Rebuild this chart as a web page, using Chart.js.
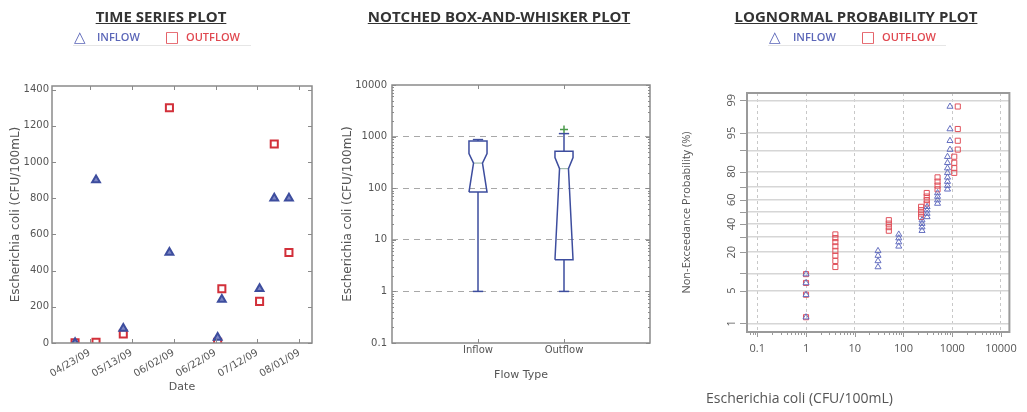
<!DOCTYPE html>
<html>
<head>
<meta charset="utf-8">
<script src="https://cdn.jsdelivr.net/npm/chart.js@4.4.1/dist/chart.umd.min.js"></script>
<style>
  body { margin: 0; background: #fff; width: 1027px; height: 412px; overflow: hidden; position: relative; font-family: "Open Sans", sans-serif; }
  canvas { position: absolute; top: 0; }
  .title { position: absolute; top: 6px; font-weight: 700; font-size: 15px; color: #333; text-decoration: underline; white-space: nowrap; transform: translateX(-50%); z-index: 2; }
  .leg { position: absolute; top: 28px; height: 18px; line-height: 18px; white-space: nowrap; font-size: 11px; font-weight: 600; z-index: 2; }
  .leg .g { position: absolute; font-family: "DejaVu Sans", sans-serif; font-size: 15px; font-weight: 400; }
  .leg .t { position: absolute; }
  .leg .line { position: absolute; top: 17px; height: 1px; background: #e6e6e6; }
  .xlab { position: absolute; left: 706px; top: 388px; font-size: 14px; color: #555; z-index: 2; }
</style>
</head>
<body>

<div class="title" style="left:161px">TIME SERIES PLOT</div>
<div class="title" style="left:499px">NOTCHED BOX-AND-WHISKER PLOT</div>
<div class="title" style="left:856px">LOGNORMAL PROBABILITY PLOT</div>

<div class="leg" style="left:0">
  <span class="line" style="left:73px;width:178px"></span>
  <span class="g" style="left:74px;color:#5b66b8">△</span><span class="t" style="left:97px;color:#5b66b8">INFLOW</span>
  <span class="g" style="left:165px;color:#e04850">□</span><span class="t" style="left:186px;color:#e04850">OUTFLOW</span>
</div>
<div class="leg" style="left:0">
  <span class="line" style="left:768px;width:178px"></span>
  <span class="g" style="left:769px;color:#5b66b8">△</span><span class="t" style="left:793px;color:#5b66b8">INFLOW</span>
  <span class="g" style="left:861px;color:#e04850">□</span><span class="t" style="left:882px;color:#e04850">OUTFLOW</span>
</div>

<div class="xlab">Escherichia coli (CFU/100mL)</div>

<canvas id="timeChart" width="330" height="412" style="left:0"></canvas>
<canvas id="boxChart" width="340" height="412" style="left:340px"></canvas>
<canvas id="probChart" width="347" height="412" style="left:680px"></canvas>

<script>
// ---------- data ----------
const sampleDates = ["04/16/09", "04/26/09", "05/09/09", "05/31/09", "06/23/09", "06/25/09", "07/13/09", "07/20/09", "07/27/09"];
const inflowTs = [1, 900, 80, 500, 30, 240, 300, 800, 800];
const outflowTs = [1, 4, 50, 1300, 4, 300, 230, 1100, 500];
const dateTickLabels = ["04/23/09", "05/13/09", "06/02/09", "06/22/09", "07/12/09", "08/01/09"];
const countTicks = [0, 200, 400, 600, 800, 1000, 1200, 1400];

// box stats: whisker low, q1, notch low, median, notch high, q3, whisker high
const flowTypes = ["Inflow", "Outflow"];
const inflowBox = [1, 84, 84, 307, 468, 822, 875];
const outflowBox = [1, 4.1, 4.1, 239, 391, 518, 1143];
const outflowOutliers = [1370];

// probability plot (sorted values + plotting position in %)
const plotPercent = [1.4, 4.2, 6.9, 9.7, 12.5, 15.3, 18.1, 20.8, 23.6, 26.4, 29.2, 31.9,
  34.7, 37.5, 40.3, 43.1, 45.8, 48.6, 51.4, 54.2, 56.9, 59.7, 62.5, 65.3,
  68.1, 70.8, 73.6, 76.4, 79.2, 81.9, 84.7, 87.5, 90.3, 93.1, 95.8, 98.6];
const inflowProb = [1, 1, 1, 1, 30, 30, 30, 30, 80, 80, 80, 80,
  240, 240, 240, 240, 305, 305, 305, 305, 500, 500, 500, 500,
  800, 800, 800, 800, 800, 800, 800, 800, 900, 900, 900, 900];
const outflowProb = [1, 1, 1, 1, 4, 4, 4, 4, 4, 4, 4, 4,
  50, 50, 50, 50, 230, 230, 230, 230, 300, 300, 300, 300,
  500, 500, 500, 500, 1100, 1100, 1100, 1100, 1300, 1300, 1300, 1300];
const probGrid = [1, 5, 10, 20, 30, 40, 50, 60, 70, 80, 90, 95, 99];
const probLabels = [1, 5, 20, 40, 60, 80, 95, 99];

// ---------- helpers ----------
const BLUE = "#3d4d9e", RED = "#d2303a";

function utc(s) {
  const [m, d, y] = s.split("/").map(Number);
  return Date.UTC(2000 + y, m - 1, d);
}
const dayOf = s => Math.round((utc(s) - utc("04/23/09")) / 864e5);

function probit(p) {
  const a = [-39.69683028665376, 220.9460984245205, -275.9285104469687, 138.3577518672690, -30.66479806614716, 2.506628277459239];
  const b = [-54.47609879822406, 161.5858368580409, -155.6989798598866, 66.80131188771972, -13.28068155288572];
  const c = [-0.007784894002430293, -0.3223964580411365, -2.400758277161838, -2.549732539343734, 4.374664141464968, 2.938163982698783];
  const d = [0.007784695709041462, 0.3224671290700398, 2.445134137142996, 3.754408661907416];
  const pl = 0.02425;
  let q, r;
  if (p < pl) {
    q = Math.sqrt(-2 * Math.log(p));
    return (((((c[0] * q + c[1]) * q + c[2]) * q + c[3]) * q + c[4]) * q + c[5]) / ((((d[0] * q + d[1]) * q + d[2]) * q + d[3]) * q + 1);
  }
  if (p > 1 - pl) {
    q = Math.sqrt(-2 * Math.log(1 - p));
    return -(((((c[0] * q + c[1]) * q + c[2]) * q + c[3]) * q + c[4]) * q + c[5]) / ((((d[0] * q + d[1]) * q + d[2]) * q + d[3]) * q + 1);
  }
  q = p - 0.5; r = q * q;
  return (((((a[0] * r + a[1]) * r + a[2]) * r + a[3]) * r + a[4]) * r + a[5]) * q / (((((b[0] * r + b[1]) * r + b[2]) * r + b[3]) * r + b[4]) * r + 1);
}

function logTicks(min, max) {
  const out = [];
  for (let e = Math.floor(Math.log10(min)); e <= Math.ceil(Math.log10(max)); e++) {
    for (let m = 1; m < 10; m++) {
      const v = +(m * Math.pow(10, e)).toPrecision(6);
      if (v >= min * 0.999 && v <= max * 1.001) out.push({ value: v, major: m === 1 });
    }
  }
  return out;
}
const fmtLog = v => v < 1 ? v.toFixed(1) : String(Math.round(v));

// frame around plot + little tick marks (matplotlib look)
const framePlugin = {
  id: "frame",
  afterDraw(chart, args, opts) {
    const { ctx, chartArea: a } = chart;
    ctx.save();
    ctx.strokeStyle = opts.color;
    (opts.marks || []).forEach(m => {
      const scale = chart.scales[m.axis];
      ctx.lineWidth = 1;
      scale.ticks.forEach(t => {
        const p = Math.round(scale.getPixelForValue(t.value)) + 0.5;
        const len = (t.major === false ? m.minor : m.major) * m.dir;
        ctx.beginPath();
        m.sides.forEach(side => {
          if (side === "bottom") { ctx.moveTo(p, a.bottom); ctx.lineTo(p, a.bottom - len); }
          if (side === "top") { ctx.moveTo(p, a.top); ctx.lineTo(p, a.top + len); }
          if (side === "left") { ctx.moveTo(a.left, p); ctx.lineTo(a.left + len, p); }
          if (side === "right") { ctx.moveTo(a.right, p); ctx.lineTo(a.right - len, p); }
        });
        ctx.stroke();
      });
    });
    ctx.lineWidth = opts.width;
    ctx.strokeRect(a.left, a.top, a.right - a.left, a.bottom - a.top);
    ctx.restore();
  }
};

const probLabelPlugin = {
  id: "probLabels",
  afterDraw(chart) {
    const { ctx, chartArea: a } = chart;
    const y = chart.scales.y;
    ctx.save();
    ctx.fillStyle = "#555";
    ctx.font = "11px 'Open Sans', sans-serif";
    ctx.textAlign = "center";
    ctx.textBaseline = "middle";
    probLabels.forEach(p => {
      ctx.save();
      ctx.translate(a.left - 15, y.getPixelForValue(probit(p / 100)));
      ctx.rotate(-Math.PI / 2);
      ctx.fillText(String(p), 0, 0);
      ctx.restore();
    });
    ctx.restore();
  }
};

Chart.defaults.font.family = "'DejaVu Sans', sans-serif";
Chart.defaults.color = "#555";
Chart.defaults.animation = false;

const noLegend = { legend: { display: false }, tooltip: { enabled: false } };

// ================= TIME SERIES =================
new Chart(document.getElementById("timeChart"), {
  type: "scatter",
  data: {
    datasets: [
      {
        label: "INFLOW",
        data: sampleDates.map((d, i) => ({ x: dayOf(d), y: inflowTs[i] })),
        pointStyle: "triangle", pointRadius: 4.5,
        backgroundColor: "#7d86c4", borderColor: BLUE, borderWidth: 2
      },
      {
        label: "OUTFLOW",
        data: sampleDates.map((d, i) => ({ x: dayOf(d), y: outflowTs[i] })),
        pointStyle: "rect", pointRadius: 5,
        backgroundColor: "#fff", borderColor: RED, borderWidth: 2
      }
    ]
  },
  options: {
    responsive: false,
    layout: { padding: { top: 86, right: 18, left: 0, bottom: 0 } },
    plugins: { ...noLegend, frame: { color: "#8a8a8a", width: 1.5, marks: [
      { axis: "x", sides: ["bottom", "top"], dir: 1, major: 4, minor: 2 },
      { axis: "y", sides: ["left", "right"], dir: 1, major: 4, minor: 2 }
    ] } },
    scales: {
      x: {
        type: "linear", min: -18, max: 106,
        afterBuildTicks: s => { s.ticks = dateTickLabels.map(l => ({ value: dayOf(l) })); },
        afterFit: s => { s.height = 69; },
        grid: { display: false, drawTicks: false },
        border: { display: false },
        ticks: {
          minRotation: 30, maxRotation: 30, autoSkip: false, padding: 4, font: { size: 10 },
          callback: v => dateTickLabels.find(l => dayOf(l) === v) || ""
        },
        title: { display: true, text: "Date", font: { size: 11 }, padding: { top: 0, bottom: 18 } }
      },
      y: {
        type: "linear", min: 0, max: 1420,
        afterBuildTicks: s => { s.ticks = countTicks.map(v => ({ value: v })); },
        afterFit: s => { s.width = 52; },
        grid: { display: false, drawTicks: false },
        border: { display: false },
        ticks: { padding: 3, font: { size: 10 }, callback: v => String(v) },
        title: { display: true, text: "Escherichia coli (CFU/100mL)", font: { size: 12 }, padding: { top: 9, bottom: 0 } }
      }
    }
  },
  plugins: [framePlugin]
});

// ================= BOX PLOT =================
function boxDatasets(stats, pos) {
  const [lo, q1, nlo, med, nhi, q3, hi] = stats;
  const w = 0.105, nw = 0.052, cap = 0.06;
  const line = (pts, color, width) => ({
    data: pts, showLine: true, pointRadius: 0, borderColor: color, borderWidth: width || 1.5, fill: false
  });
  return [
    line([
      { x: pos - w, y: q1 }, { x: pos - w, y: nlo }, { x: pos - nw, y: med }, { x: pos - w, y: nhi },
      { x: pos - w, y: q3 }, { x: pos + w, y: q3 }, { x: pos + w, y: nhi }, { x: pos + nw, y: med },
      { x: pos + w, y: nlo }, { x: pos + w, y: q1 }, { x: pos - w, y: q1 }
    ], BLUE),
    line([{ x: pos - nw, y: med }, { x: pos + nw, y: med }], "#8fb0a0", 1),
    line([{ x: pos, y: q1 }, { x: pos, y: lo }], BLUE),
    line([{ x: pos, y: q3 }, { x: pos, y: hi }], BLUE),
    line([{ x: pos - cap, y: lo }, { x: pos + cap, y: lo }], BLUE),
    line([{ x: pos - cap, y: hi }, { x: pos + cap, y: hi }], BLUE)
  ];
}

new Chart(document.getElementById("boxChart"), {
  type: "scatter",
  data: {
    datasets: [
      ...boxDatasets(inflowBox, 1),
      ...boxDatasets(outflowBox, 2),
      {
        data: outflowOutliers.map(v => ({ x: 2, y: v })),
        pointStyle: "cross", pointRadius: 4, borderColor: "#4a9a4a", borderWidth: 1.5
      }
    ]
  },
  options: {
    responsive: false,
    layout: { padding: { top: 85, right: 30, left: 0, bottom: 0 } },
    plugins: { ...noLegend, frame: { color: "#8a8a8a", width: 1.5, marks: [
      { axis: "x", sides: ["bottom", "top"], dir: 1, major: 4, minor: 2 },
      { axis: "y", sides: ["left", "right"], dir: 1, major: 4, minor: 2 }
    ] } },
    scales: {
      x: {
        type: "linear", min: 0, max: 3,
        afterBuildTicks: s => { s.ticks = flowTypes.map((f, i) => ({ value: i + 1 })); },
        afterFit: s => { s.height = 69; },
        grid: { display: false, drawTicks: false },
        border: { display: false },
        ticks: { padding: 1, maxRotation: 0, font: { size: 10 }, callback: v => flowTypes[v - 1] || "" },
        title: { display: true, text: "Flow Type", font: { size: 11 }, padding: { top: 0, bottom: 30 } }
      },
      y: {
        type: "logarithmic", min: 0.1, max: 10000,
        afterBuildTicks: s => { s.ticks = logTicks(0.1, 10000); },
        afterFit: s => { s.width = 52; },
        grid: {
          drawTicks: false, lineWidth: 1,
          color: c => (c.tick && c.tick.major && c.tick.value > 0.5 && c.tick.value < 5000) ? "#a8a8a8" : "rgba(0,0,0,0)"
        },
        border: { display: false, dash: [6, 5] },
        ticks: { padding: 5, autoSkip: false, font: { size: 10 }, callback: (v, i, t) => t[i].major ? fmtLog(v) : "" },
        title: { display: true, text: "Escherichia coli (CFU/100mL)", font: { size: 12 }, padding: { top: 1, bottom: 0 } }
      }
    }
  },
  plugins: [framePlugin]
});

// ================= PROBABILITY PLOT =================
new Chart(document.getElementById("probChart"), {
  type: "scatter",
  data: {
    datasets: [
      {
        label: "INFLOW",
        data: inflowProb.map((v, i) => ({ x: v, y: probit(plotPercent[i] / 100) })),
        pointStyle: "triangle", pointRadius: 3.5,
        backgroundColor: "rgba(0,0,0,0)", borderColor: "#6670c0", borderWidth: 1
      },
      {
        label: "OUTFLOW",
        data: outflowProb.map((v, i) => ({ x: v, y: probit(plotPercent[i] / 100) })),
        pointStyle: "rect", pointRadius: 3.6,
        backgroundColor: "rgba(0,0,0,0)", borderColor: "#e0505a", borderWidth: 1
      }
    ]
  },
  options: {
    responsive: false,
    layout: { padding: { top: 93, right: 10, left: 0, bottom: 0 } },
    plugins: { ...noLegend, frame: { color: "#9a9a9a", width: 2, marks: [
      { axis: "x", sides: ["bottom"], dir: -1, major: 5, minor: 3 },
      { axis: "y", sides: ["left"], dir: -1, major: 7, minor: 7 }
    ] } },
    scales: {
      x: {
        type: "logarithmic", min: 0.0615, max: 14900,
        afterBuildTicks: s => { s.ticks = logTicks(0.0615, 14900); },
        afterFit: s => { s.height = 80; },
        grid: {
          drawTicks: false, lineWidth: 1,
          color: c => (c.tick && c.tick.major) ? "#c8c8c8" : "rgba(0,0,0,0)"
        },
        border: { display: false, dash: [3, 3] },
        ticks: {
          padding: 10, minRotation: 0, maxRotation: 0, autoSkip: false,
          font: { size: 11, family: "'Open Sans', sans-serif" },
          callback: (v, i, t) => t[i].major ? fmtLog(v) : ""
        }
      },
      y: {
        type: "linear", min: -2.506, max: 2.479,
        afterBuildTicks: s => { s.ticks = probGrid.map(p => ({ value: probit(p / 100) })); },
        afterFit: s => { s.width = 67; },
        grid: { drawTicks: false, lineWidth: 1.5, color: "#d6d6d6" },
        border: { display: false },
        ticks: { display: false },
        title: { display: true, text: "Non-Exceedance Probability (%)", font: { size: 11, family: "'Open Sans', sans-serif" }, padding: { top: 0, bottom: 0 } }
      }
    }
  },
  plugins: [framePlugin, probLabelPlugin]
});
</script>
</body>
</html>
